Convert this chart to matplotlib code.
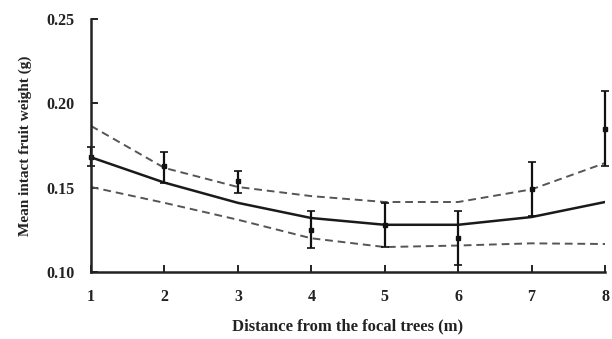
import matplotlib
matplotlib.use('Agg')
import matplotlib.pyplot as plt

# ======
# data
# ======
distance = [1, 2, 3, 4, 5, 6, 7, 8]
mean_weight = [0.168, 0.163, 0.154, 0.125, 0.128, 0.120, 0.149, 0.185]
err_low = [0.163, 0.153, 0.147, 0.114, 0.115, 0.104, 0.133, 0.163]
err_high = [0.174, 0.171, 0.160, 0.136, 0.141, 0.136, 0.165, 0.2075]

fit = [0.168, 0.153, 0.141, 0.132, 0.128, 0.128, 0.1326, 0.1415]
ci_upper = [0.1866, 0.1617, 0.1504, 0.145, 0.1415, 0.1415, 0.149, 0.1646]
ci_lower = [0.1504, 0.141, 0.131, 0.120, 0.1148, 0.1157, 0.117, 0.1166]

yticks = [0.10, 0.15, 0.20, 0.25]

plt.rcParams['font.family'] = ['Liberation Serif', 'DejaVu Serif']
plt.rcParams['font.weight'] = 'bold'

fig = plt.figure(figsize=(6.12, 3.39), dpi=100)
ax = fig.add_axes([0.1487, 0.1976, 0.8399, 0.7464])

yerr = [[m - lo for m, lo in zip(mean_weight, err_low)],
        [hi - m for m, hi in zip(mean_weight, err_high)]]

ax.plot(distance, ci_upper, ls=(0, (4, 2.5)), color='#555555', lw=1.4)
ax.plot(distance, ci_lower, ls=(0, (4, 2.5)), color='#555555', lw=1.4)
ax.plot(distance, fit, color='#1a1a1a', lw=1.8)
ax.errorbar(distance, mean_weight, yerr=yerr, fmt='s', color='#111111',
            ms=3, elinewidth=1.6, capsize=3, capthick=1.2, clip_on=False)

ax.set_xlim(1, 8)
ax.set_ylim(0.10, 0.25)
ax.set_xticks(distance)
ax.set_yticks(yticks)
ax.set_yticklabels(['%.2f' % v for v in yticks])

for side in ['top', 'right']:
    ax.spines[side].set_visible(False)
for side in ['left', 'bottom']:
    ax.spines[side].set_linewidth(1.8)
    ax.spines[side].set_color('#222222')

ax.tick_params(direction='in', length=5, width=1.4, labelsize=11.5, colors='#222222')
ax.tick_params(axis='x', pad=12)
ax.tick_params(axis='y', pad=12)

ax.set_xlabel('Distance from the focal trees (m)', fontsize=12, labelpad=10,
              color='#222222', fontweight='bold')
ax.set_ylabel('Mean intact fruit weight (g)', fontsize=11, labelpad=10,
              color='#222222', fontweight='bold')

fig.savefig('out.png', dpi=100)
